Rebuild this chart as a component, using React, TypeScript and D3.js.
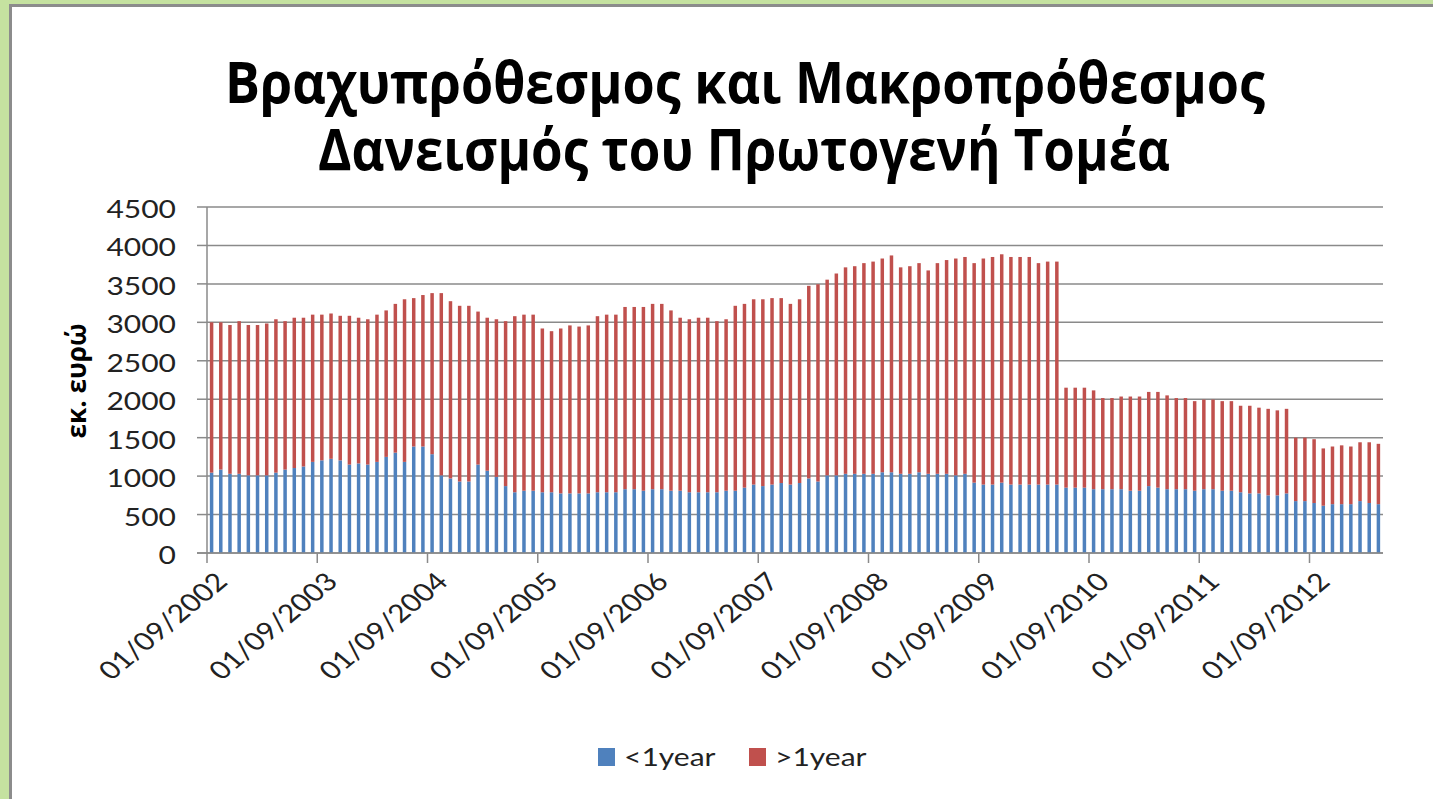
import React, { useEffect, useRef } from "react";
import * as d3 from "d3";

// monthly observations, 09/2002 .. 04/2013
const months: Date[] = d3.timeMonth.range(new Date(2002, 8, 1), new Date(2013, 4, 1));

// < 1 year (short-term loans), million euro
const shortTerm = [
  1045, 1085, 1030, 1030, 1010, 1010, 1010, 1045, 1085, 1105, 1125, 1185,
  1205, 1225, 1205, 1150, 1165, 1150, 1185, 1250, 1305, 1185, 1385, 1385,
  1285, 1010, 970, 930, 930, 1150, 1070, 990, 870, 790, 810, 810,
  790, 790, 775, 775, 775, 775, 790, 790, 790, 830, 830, 810,
  830, 830, 810, 810, 790, 790, 790, 790, 810, 810, 850, 890,
  870, 890, 910, 890, 910, 970, 930, 1010, 1010, 1030, 1030, 1030,
  1030, 1050, 1050, 1030, 1030, 1050, 1030, 1030, 1030, 1010, 1030, 915,
  890, 890, 915, 890, 890, 890, 890, 890, 890, 850, 850, 850,
  830, 830, 830, 830, 810, 810, 870, 850, 830, 830, 830, 810,
  830, 830, 810, 810, 790, 775, 775, 750, 750, 775, 675, 675,
  650, 615, 635, 635, 635, 675, 650, 635,
];

// > 1 year (long-term loans), million euro
const longTerm = [
  1955, 1915, 1935, 1985, 1955, 1955, 1975, 1995, 1930, 1955, 1935, 1915,
  1895, 1890, 1880, 1935, 1895, 1890, 1915, 1905, 1935, 2115, 1930, 1970,
  2095, 2370, 2305, 2285, 2285, 1990, 1990, 2050, 2145, 2290, 2290, 2290,
  2130, 2095, 2145, 2185, 2170, 2185, 2290, 2310, 2310, 2370, 2370, 2390,
  2410, 2410, 2345, 2250, 2250, 2270, 2270, 2225, 2230, 2405, 2390, 2410,
  2430, 2425, 2405, 2350, 2390, 2505, 2565, 2545, 2625, 2685, 2700, 2740,
  2760, 2780, 2820, 2685, 2700, 2720, 2645, 2740, 2780, 2820, 2820, 2855,
  2940, 2960, 2970, 2960, 2960, 2960, 2880, 2900, 2900, 1300, 1300, 1300,
  1285, 1185, 1185, 1205, 1225, 1225, 1225, 1245, 1220, 1185, 1185, 1165,
  1165, 1165, 1165, 1165, 1125, 1140, 1115, 1125, 1105, 1100, 825, 825,
  830, 745, 750, 765, 750, 765, 790, 785,
];

const seriesNames = ["<1year", ">1year"];
const colors = ["#4f81bd", "#c0504d"];
const yTicks = [0, 500, 1000, 1500, 2000, 2500, 3000, 3500, 4000, 4500];
const titleLines = ["Βραχυπρόθεσμος και Μακροπρόθεσμος", "Δανεισμός του Πρωτογενή Τομέα"];
const yTitle = "εκ. ευρώ";

const W = 1433,
  H = 799;
const plot = { left: 207, right: 1383, top: 207, bottom: 553 };
const SX = 1.2; // the source image is stretched horizontally
const labelFont = "Lato, 'Open Sans', sans-serif";
const titleFont = "'Open Sans', 'Noto Sans', sans-serif";
const grid = "#8a8a8a";

export default function App() {
  const ref = useRef<SVGSVGElement>(null);

  useEffect(() => {
    const svg = d3.select(ref.current);
    svg.selectAll("*").remove();

    // frame
    svg.append("rect").attr("width", W).attr("height", H).attr("fill", "#c5e2a0");
    svg.append("rect").attr("x", 9).attr("y", 4).attr("width", W).attr("height", H).attr("fill", "#8c8c8c");
    svg.append("rect").attr("x", 12).attr("y", 7).attr("width", W).attr("height", H).attr("fill", "#ffffff");

    const fmt = d3.timeFormat("%d/%m/%Y");
    const idx = months.map((_, i) => i);

    const x = d3
      .scaleBand<number>()
      .domain(idx)
      .range([plot.left, plot.right])
      .paddingInner(0.62)
      .paddingOuter(0.31);

    const y = d3.scaleLinear().domain([0, 4500]).range([plot.bottom, plot.top]);

    // gridlines
    svg
      .append("g")
      .selectAll("line")
      .data(yTicks)
      .join("line")
      .attr("x1", plot.left)
      .attr("x2", plot.right)
      .attr("y1", (d) => y(d))
      .attr("y2", (d) => y(d))
      .attr("stroke", grid)
      .attr("stroke-width", 1.5);

    // stacked bars
    const rows = idx.map((i) => ({ i, a: shortTerm[i], b: longTerm[i] }));
    const stack = d3.stack<any>().keys(["a", "b"])(rows);

    svg
      .append("g")
      .selectAll("g")
      .data(stack)
      .join("g")
      .attr("fill", (_, k) => colors[k])
      .selectAll("rect")
      .data((s) => s)
      .join("rect")
      .attr("x", (d) => x(d.data.i)!)
      .attr("width", x.bandwidth())
      .attr("y", (d) => y(d[1]))
      .attr("height", (d) => y(d[0]) - y(d[1]));

    // axes lines
    svg
      .append("line")
      .attr("x1", plot.left)
      .attr("x2", plot.left)
      .attr("y1", plot.top)
      .attr("y2", plot.bottom)
      .attr("stroke", grid)
      .attr("stroke-width", 1.5);
    svg
      .append("line")
      .attr("x1", plot.left - 10)
      .attr("x2", plot.right)
      .attr("y1", plot.bottom)
      .attr("y2", plot.bottom)
      .attr("stroke", grid)
      .attr("stroke-width", 1.5);

    // y ticks + labels
    const yg = svg.append("g").selectAll("g").data(yTicks).join("g");
    yg.append("line")
      .attr("x1", plot.left - 10)
      .attr("x2", plot.left)
      .attr("y1", (d) => y(d))
      .attr("y2", (d) => y(d))
      .attr("stroke", grid)
      .attr("stroke-width", 1.5);
    yg.append("text")
      .attr("transform", (d) => `translate(176,${y(d) + 11}) scale(${SX},1)`)
      .attr("text-anchor", "end")
      .attr("font-family", labelFont)
      .attr("font-size", 25)
      .attr("fill", "#222")
      .text((d) => d);

    // x ticks every 12 months
    const step = x.step();
    const xTickIdx = idx.filter((i) => i % 12 === 0);
    svg
      .append("g")
      .selectAll("line")
      .data(xTickIdx)
      .join("line")
      .attr("x1", (i) => x(i)! - (step * x.paddingInner()) / 2)
      .attr("x2", (i) => x(i)! - (step * x.paddingInner()) / 2)
      .attr("y1", plot.bottom)
      .attr("y2", plot.bottom + 10)
      .attr("stroke", grid)
      .attr("stroke-width", 1.5);

    svg
      .append("g")
      .selectAll("text")
      .data(xTickIdx)
      .join("text")
      .attr("transform", (i) => `translate(${x(i)! + x.bandwidth() / 2 + 10},${plot.bottom + 24}) scale(${SX},1) rotate(-45)`)
      .attr("text-anchor", "end")
      .attr("dy", "0.35em")
      .attr("font-family", labelFont)
      .attr("font-size", 25)
      .attr("fill", "#222")
      .text((i) => fmt(months[i]));

    // y title
    svg
      .append("text")
      .attr("transform", `translate(86,381) scale(${SX},1) rotate(-90)`)
      .attr("text-anchor", "middle")
      .attr("font-family", titleFont)
      .attr("font-weight", "bold")
      .attr("font-size", 22)
      .attr("textLength", 115)
      .attr("lengthAdjust", "spacingAndGlyphs")
      .text(yTitle);

    // title
    const tpos = [
      { x: 225, y: 103, len: 1040 },
      { x: 318, y: 170, len: 852 },
    ];
    svg
      .append("g")
      .selectAll("text")
      .data(titleLines)
      .join("text")
      .attr("x", (_, k) => tpos[k].x)
      .attr("y", (_, k) => tpos[k].y)
      .attr("textLength", (_, k) => tpos[k].len)
      .attr("lengthAdjust", "spacingAndGlyphs")
      .attr("font-family", titleFont)
      .attr("font-weight", "bold")
      .attr("font-size", 57)
      .attr("fill", "#000")
      .text((d) => d);

    // legend
    const lpos = [598, 749];
    const lg = svg.append("g").selectAll("g").data(seriesNames).join("g");
    lg.append("rect")
      .attr("x", (_, k) => lpos[k])
      .attr("y", 748)
      .attr("width", 17)
      .attr("height", 18)
      .attr("fill", (_, k) => colors[k]);
    lg.append("text")
      .attr("transform", (_, k) => `translate(${lpos[k] + 26},766) scale(${SX},1)`)
      .attr("font-family", labelFont)
      .attr("font-size", 25)
      .attr("fill", "#222")
      .text((d) => d);
  }, []);

  return (
    <svg
      ref={ref}
      width={W}
      height={H}
      style={{ position: "absolute", left: 0, top: 0 }}
    />
  );
}
